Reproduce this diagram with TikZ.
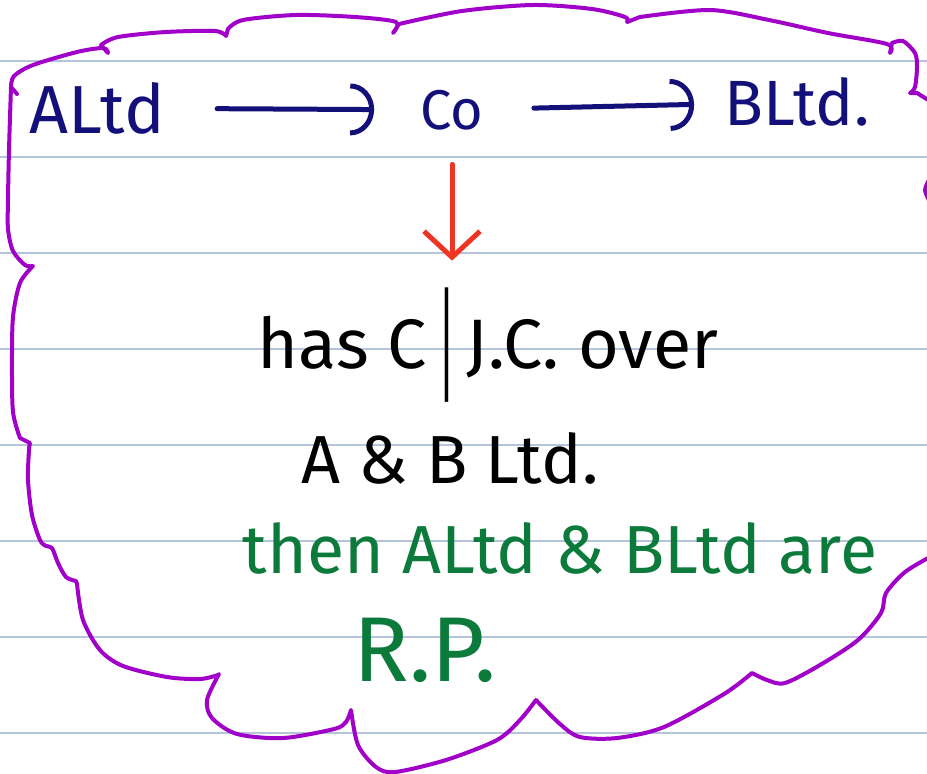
\documentclass[tikz,border=0pt]{standalone}
\usepackage{fontspec}
\setmainfont{Fira Sans}
\usetikzlibrary{arrows.meta}
\definecolor{inknavy}{HTML}{14107A}
\definecolor{inkred}{HTML}{EE3524}
\definecolor{inkgreen}{HTML}{0B7A3A}
\definecolor{cloudpurple}{HTML}{A000C8}
\definecolor{rulegrey}{HTML}{B4C4DA}
\tikzset{
  ruled/.style={draw=rulegrey, line width=0.6pt},
  cloudline/.style={draw=cloudpurple, line width=2pt, line cap=round, line join=round},
  navyword/.style={text=inknavy, inner sep=0pt},
  link/.style={draw=inknavy, line width=2.5pt, line cap=round,
    -{Arc Barb[length=12pt, width=26pt, line width=2.5pt]}},
  redlink/.style={draw=inkred, line width=2.5pt, line cap=round,
    -{Straight Barb[length=13pt, width=28pt, line width=2.5pt]}}
}
\begin{document}
\begin{tikzpicture}[x=0.5pt, y=-0.5pt]
\useasboundingbox (0,0) rectangle (927,773);
% ruled paper
\foreach \ry in {61,157,...,733}
  \draw[ruled] (0,\ry) -- (927,\ry);
% cloud round the note
\draw[cloudline] (17,94) -- (11,87)
  -- plot[smooth] coordinates {(11,87) (14,76) (33,65) (77,52) (103,48) (108,53)}
  -- plot[smooth] coordinates {(101,45) (118,37) (166,32) (215,31) (226,36)}
  -- plot[smooth] coordinates {(228,29) (243,20) (296,15) (355,17) (396,22) (393,33)}
  -- plot[smooth] coordinates {(399,24) (462,11) (533,5) (592,9) (625,17) (627,22)}
  -- plot[smooth] coordinates {(640,17) (710,10) (769,20) (828,33) (887,44) (890,53)}
  -- plot[smooth] coordinates {(892,43) (903,41) (915,53) (917,67) (915,87) (910,93)}
  -- (917,93) -- (925,98) -- (930,101);
\draw[cloudline] plot[smooth] coordinates {(930,178) (925,190) (930,202)};
\draw[cloudline] plot[smooth] coordinates {(930,557) (905,572) (886,593) (881,613) (858,640) (820,665) (785,683) (767,680) (752,673)}
  -- plot[smooth] coordinates {(752,673) (724,694) (664,727) (617,738) (580,737) (560,724) (536,700)}
  -- plot[smooth] coordinates {(536,700) (520,720) (497,740) (446,760) (395,772) (376,767) (358,745) (351,710)}
  -- plot[smooth] coordinates {(351,710) (346,722) (334,729) (283,738) (237,734) (212,718) (207,700) (219,674)}
  -- plot[smooth] coordinates {(218,675) (200,679) (167,677) (123,666) (100,650) (83,620) (77,584)}
  -- plot[smooth] coordinates {(76,581) (66,577) (58,563) (52,548) (46,546) (40,540) (32,515) (28,480) (29,450) (30,443)}
  -- plot[smooth] coordinates {(20,438) (13,412) (12,365) (13,317) (20,283) (33,266)}
  -- plot[smooth] coordinates {(33,266) (25,265) (13,251) (8,229) (8,200) (9,150) (11,87)};
% companies
\node[navyword, font=\fontsize{34}{40}\selectfont] (altd) at (97,108) {ALtd};
\node[navyword, font=\fontsize{28}{34}\selectfont] (co) at (452,110) {Co};
\node[navyword, font=\fontsize{32}{38}\selectfont] (bltd) at (797,102) {BLtd.};
\draw[link, shorten <=26pt, shorten >=23pt] (altd) -- (co);
\draw[link, shorten <=25pt, shorten >=15pt] (co) -- (bltd);
% control statement
\node[font=\fontsize{35}{42}\selectfont] (hasline) at (488,345)
  {has C\,\raisebox{-0.3em}{\scalebox{0.6}[1.8]{|}}\,J.C. over};
\node[font=\fontsize{34}{40}\selectfont] (abltd) at (450,458) {A \& B Ltd.};
\draw[redlink, shorten <=17pt, shorten >=10pt] (co) -- (co |- hasline.north);
% conclusion
\node[text=inkgreen, font=\fontsize{34}{40}\selectfont] (thenline) at (560,548) {then ALtd \& BLtd are};
\node[text=inkgreen, font=\fontsize{46}{52}\selectfont] (rp) at (425,650) {R.P.};
\end{tikzpicture}
\end{document}
